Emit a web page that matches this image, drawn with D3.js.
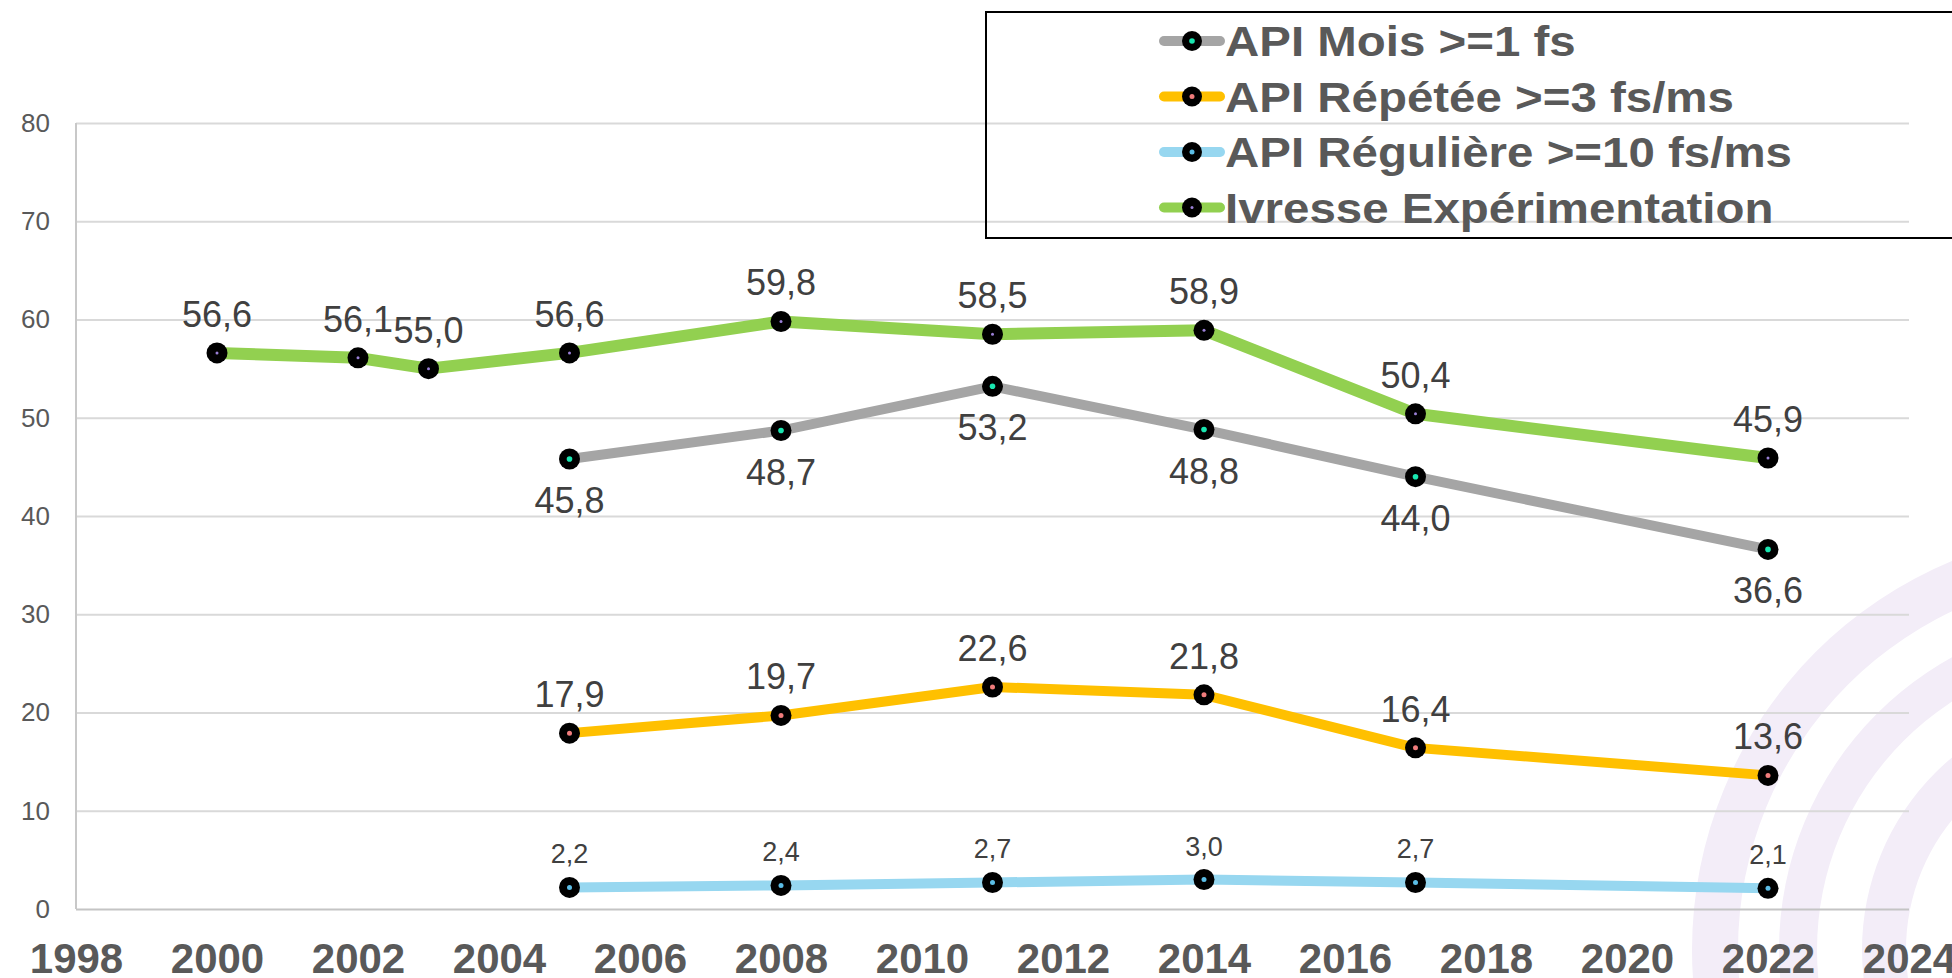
<html>
<head>
<meta charset="UTF-8"/>
<script src="https://d3js.org/d3.v7.min.js"></script>
<title>API et ivresse</title>
<style>
body { margin: 0; background: #fff; }
text { font-family: "Liberation Sans", Arial, sans-serif; }
.grid line { stroke: #d9d9d9; stroke-width: 2; }
.grid text { font-size: 26px; fill: #595959; }
.xaxis text { font-size: 42px; font-weight: bold; fill: #595959; }
.lbl { fill: #404040; text-anchor: middle; }
.leg text { font-size: 42px; font-weight: bold; fill: #595959; }
</style>
</head>
<body>
<svg id='big' width=1952 height=978></svg>
<script>
'use strict';

// years of each survey
var yearsIvresse = [2000, 2002, 2003, 2005, 2008, 2011, 2014, 2017, 2022];
var yearsApi = [2005, 2008, 2011, 2014, 2017, 2022];

var ivresse = [56.6, 56.1, 55.0, 56.6, 59.8, 58.5, 58.9, 50.4, 45.9];
var apiMois = [45.8, 48.7, 53.2, 48.8, 44.0, 36.6];
var apiRepetee = [17.9, 19.7, 22.6, 21.8, 16.4, 13.6];
var apiReguliere = [2.2, 2.4, 2.7, 3.0, 2.7, 2.1];

var xTicks = [1998, 2000, 2002, 2004, 2006, 2008, 2010, 2012, 2014, 2016, 2018, 2020, 2022, 2024];
var yTicks = [0, 10, 20, 30, 40, 50, 60, 70, 80];

var seriesNames = ['API Mois >=1 fs', 'API Répétée >=3 fs/ms', 'API Régulière >=10 fs/ms', 'Ivresse Expérimentation'];

var series = [
	{name: seriesNames[0], years: yearsApi, values: apiMois, color: '#a5a5a5', dot: '#19e6b0', w: 10, pos: 'below', big: true, dr: 2.8},
	{name: seriesNames[1], years: yearsApi, values: apiRepetee, color: '#ffc000', dot: '#f07c7c', w: 10, pos: 'above', big: true, dr: 2.5},
	{name: seriesNames[2], years: yearsApi, values: apiReguliere, color: '#97d7f0', dot: '#5bbde6', w: 10, pos: 'above', big: false, dr: 2.5},
	{name: seriesNames[3], years: yearsIvresse, values: ivresse, color: '#92d050', dot: '#9a7fd6', w: 12, pos: 'above', big: true, dr: 1.5}
];

var svg = d3.select('#big');
var width = +svg.attr('width');
var height = +svg.attr('height');

var x = d3.scaleLinear().domain([1998, 2024]).range([76, 1909]);
var y = d3.scaleLinear().domain([0, 80]).range([909, 123]);

// background arcs
var arc = d3.arc().startAngle(0).endAngle(2 * Math.PI);
svg.append('g')
	.attr('transform', 'translate(2113,950)')
	.selectAll('path')
	.data([[375, 421], [296, 334], [207, 251]])
	.enter().append('path')
	.attr('d', function(d){ return arc({innerRadius: d[0], outerRadius: d[1]}); })
	.attr('fill', '#f3edf8');

// grid + y labels
var gy = svg.append('g')
	.attr('class', 'grid')
	.attr('transform', 'translate(' + x(1998) + ',0)')
	.call(d3.axisLeft(y).tickValues(yTicks).tickSize(-(x(2024) - x(1998))).tickPadding(26));
gy.select('.domain').remove();
gy.selectAll('.tick').filter(function(d){ return d === 0; }).select('line').style('stroke', '#c4c4c4');

svg.append('line')
	.attr('x1', x(1998)).attr('x2', x(1998))
	.attr('y1', y(80)).attr('y2', y(0))
	.attr('stroke', '#c8c8c8').attr('stroke-width', 2);

var gx = svg.append('g')
	.attr('class', 'xaxis')
	.attr('transform', 'translate(0,' + y(0) + ')')
	.call(d3.axisBottom(x).tickValues(xTicks).tickFormat(d3.format('d')).tickSize(0).tickPadding(34));
gx.select('.domain').remove();

var line = d3.line()
	.x(function(d){ return x(d[0]); })
	.y(function(d){ return y(d[1]); });

var fmt = function(v){ return d3.format('.1f')(v).replace('.', ','); };

series.forEach(function(s){
	var pts = s.years.map(function(yr, i){ return [yr, s.values[i]]; });
	var g = svg.append('g');
	g.append('path')
		.datum(pts)
		.attr('d', line)
		.attr('fill', 'none')
		.attr('stroke', s.color)
		.attr('stroke-width', s.w)
		.attr('stroke-linejoin', 'round');
	g.selectAll('.mk').data(pts).enter().append('circle')
		.attr('cx', function(d){ return x(d[0]); })
		.attr('cy', function(d){ return y(d[1]); })
		.attr('r', 10.5)
		.attr('fill', '#000');
	g.selectAll('.dt').data(pts).enter().append('circle')
		.attr('cx', function(d){ return x(d[0]); })
		.attr('cy', function(d){ return y(d[1]); })
		.attr('r', s.dr)
		.attr('fill', s.dot);
	g.selectAll('.lbl').data(pts).enter().append('text')
		.attr('class', 'lbl')
		.attr('x', function(d){ return x(d[0]); })
		.attr('y', function(d){
			if (s.pos === 'below') return y(d[1]) + 54;
			return y(d[1]) - (s.big ? 26 : 24);
		})
		.style('font-size', s.big ? '36px' : '27px')
		.text(function(d){ return fmt(d[1]); });
});

// legend
svg.append('rect')
	.attr('x', 986).attr('y', 12)
	.attr('width', 1000).attr('height', 226)
	.attr('fill', 'none')
	.attr('stroke', '#000')
	.attr('stroke-width', 2);

var leg = svg.selectAll('.leg').data(series).enter()
	.append('g')
	.attr('class', 'leg')
	.attr('transform', function(d, i){ return 'translate(0,' + (56 + i * 55.5) + ')'; });

leg.append('line')
	.attr('x1', 1164).attr('x2', 1220)
	.attr('y1', -15).attr('y2', -15)
	.attr('stroke', function(d){ return d.color; })
	.attr('stroke-width', 10)
	.attr('stroke-linecap', 'round');
leg.append('circle')
	.attr('cx', 1192).attr('cy', -15).attr('r', 10)
	.attr('fill', '#000');
leg.append('circle')
	.attr('cx', 1192).attr('cy', -15).attr('r', function(d){ return d.dr; })
	.attr('fill', function(d){ return d.dot; });
leg.append('text')
	.attr('transform', 'translate(1225,0) scale(1.13,1)')
	.text(function(d){ return d.name; });
</script>
</body>
</html>
